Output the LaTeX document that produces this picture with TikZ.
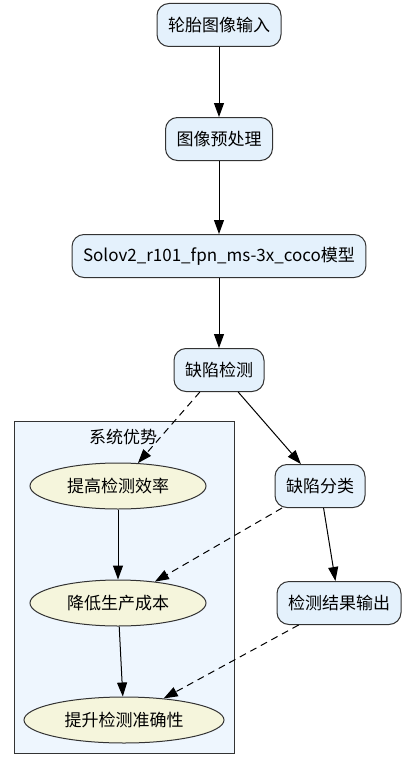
\documentclass[tikz,border=0pt]{standalone}
\usepackage{fontspec}
\setmainfont{Noto Sans CJK SC}
\usetikzlibrary{arrows.meta,shapes.geometric}
\definecolor{boxfill}{HTML}{E4F1FC}
\definecolor{clusterfill}{HTML}{EEF6FE}
\definecolor{ellfill}{HTML}{F5F5DC}
\definecolor{edgegray}{HTML}{333333}
\tikzset{
	boxnode/.style={draw=edgegray,fill=boxfill,rounded corners=12pt,inner xsep=11pt,minimum height=43pt,line width=1pt},
	ellnode/.style={ellipse,draw=edgegray,fill=ellfill,inner sep=0pt,minimum height=46pt,line width=1pt},
	solidarrow/.style={->,line width=1pt},
	dasharrow/.style={->,line width=1pt,dash pattern=on 7pt off 5pt}
}
\begin{document}
\begin{tikzpicture}[x=1pt,y=-1pt,font={\fontsize{17}{20}\selectfont},>={Triangle[length=14pt,width=10pt]}]
	%%Khung hình
	\useasboundingbox (0,0) rectangle (406,768);
	%%Nhóm ưu điểm
	\draw[draw=edgegray,fill=clusterfill,line width=1pt] (14,421) rectangle (234,753);
	\node (title) at (123,437) {系统优势};
	%%Các bước chính
	\node[boxnode] (input) at (219,25) {轮胎图像输入};
	\node[boxnode] (prep) at (219,139) {图像预处理};
	\node[boxnode] (model) at (219,256) {Solov2\_r101\_fpn\_ms-3x\_coco模型};
	\node[boxnode] (detect) at (219,370) {缺陷检测};
	\node[boxnode] (classify) at (320,486) {缺陷分类};
	\node[boxnode] (output) at (339,603) {检测结果输出};
	%%Các ưu điểm
	\node[ellnode,minimum width=176pt] (eff) at (118,486) {提高检测效率};
	\node[ellnode,minimum width=176pt] (cost) at (118,603) {降低生产成本};
	\node[ellnode,minimum width=200pt] (acc) at (124,720) {提升检测准确性};
	%%Mũi tên
	\draw[solidarrow] (input)--(prep);
	\draw[solidarrow] (prep)--(model);
	\draw[solidarrow] (model)--(detect);
	\draw[solidarrow] (detect)--(classify);
	\draw[solidarrow] (classify)--(output);
	\draw[solidarrow] (eff)--(cost);
	\draw[solidarrow] (cost)--(acc);
	\draw[dasharrow] (detect)--(eff);
	\draw[dasharrow] (classify)--(cost);
	\draw[dasharrow] (output)--(acc);
\end{tikzpicture}
\end{document}
